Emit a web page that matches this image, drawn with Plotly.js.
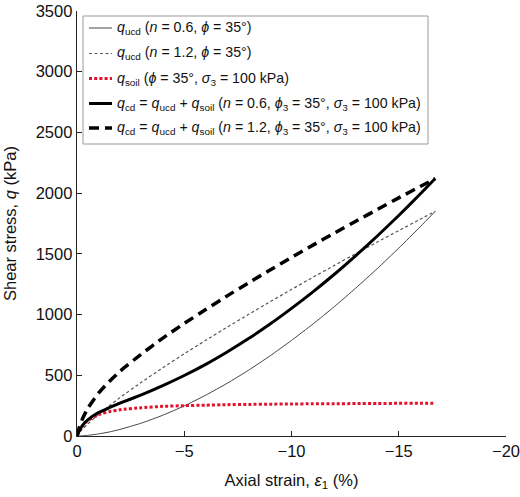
<!DOCTYPE html>
<html>
<head>
<meta charset="utf-8">
<script src="https://cdn.plot.ly/plotly-3.0.1.min.js"></script>
<style>
  html, body { margin: 0; padding: 0; background: #fff; }
  #chart { width: 520px; height: 497px; }
</style>
</head>
<body>
<div id="chart"></div>
<script>
// Axial strain (%), compression negative
const strain = [0, -0.1, -0.25, -0.5, -1, -1.5, -2, -3, -4, -5, -6, -7, -8, -9, -10, -11, -12, -13, -14, -15, -16, -16.7];

// Shear stress q (kPa) for each curve
const qUcdN06 = [0, 0.4, 1.7, 5.3, 17, 33, 54, 106, 171, 248, 336, 434, 542, 660, 787, 922, 1066, 1219, 1379, 1547, 1723, 1850];
const qUcdN12 = [0, 26, 56, 99, 177, 248, 316, 442, 562, 677, 788, 896, 1002, 1105, 1207, 1307, 1405, 1502, 1597, 1692, 1785, 1850];
const qSoil   = [0, 40, 83, 128, 176, 200, 216, 233, 244, 250, 254, 258, 260, 262, 264, 265, 266, 267, 268, 269, 270, 270];
const qCdN06  = [0, 40, 85, 133, 193, 233, 270, 339, 415, 498, 590, 692, 802, 922, 1051, 1187, 1332, 1486, 1647, 1816, 1993, 2120];
const qCdN12  = [0, 66, 139, 227, 353, 448, 532, 675, 806, 927, 1042, 1154, 1262, 1367, 1471, 1572, 1671, 1769, 1865, 1961, 2055, 2120];

const xTicks = [0, -5, -10, -15, -20];
const yTicks = [0, 500, 1000, 1500, 2000, 2500, 3000, 3500];

const legendLabels = [
  '<i>q</i><sub>ucd</sub> (<i>n</i> = 0.6, <i>ϕ</i> = 35°)',
  '<i>q</i><sub>ucd</sub> (<i>n</i> = 1.2, <i>ϕ</i> = 35°)',
  '<i>q</i><sub>soil</sub> (<i>ϕ</i> = 35°, <i>σ</i><sub>3</sub> = 100 kPa)',
  '<i>q</i><sub>cd</sub> = <i>q</i><sub>ucd</sub> + <i>q</i><sub>soil</sub> (<i>n</i> = 0.6, <i>ϕ</i><sub>3</sub> = 35°, <i>σ</i><sub>3</sub> = 100 kPa)',
  '<i>q</i><sub>cd</sub> = <i>q</i><sub>ucd</sub> + <i>q</i><sub>soil</sub> (<i>n</i> = 1.2, <i>ϕ</i><sub>3</sub> = 35°, <i>σ</i><sub>3</sub> = 100 kPa)'
];

const FONT = 'Liberation Sans, Arial, Helvetica, sans-serif';

const styles = [
  { color: '#444444', width: 1,   dash: 'solid' },
  { color: '#555555', width: 1.2, dash: '3px,2.5px' },
  { color: '#e3122c', width: 3,   dash: '3px,2.2px' },
  { color: '#000000', width: 3,   dash: 'solid' },
  { color: '#000000', width: 3.5, dash: '10px,6px' }
];

const series = [qUcdN06, qUcdN12, qSoil, qCdN06, qCdN12];

// thin curves first, thick combined curves on top
const traces = series.map((ys, i) => ({
  x: strain,
  y: ys,
  type: 'scatter',
  mode: 'lines',
  line: { color: styles[i].color, width: styles[i].width, dash: styles[i].dash, shape: 'spline', smoothing: 0.5 },
  name: legendLabels[i],
  showlegend: false,
  hoverinfo: 'skip'
}));

// plot-area geometry in pixels (used for the boxed key)
const M = { l: 77, r: 14, t: 11, b: 61 };
const W = 520, H = 497;
const pw = W - M.l - M.r, ph = H - M.t - M.b;
const px = v => (v - M.l) / pw;
const py = v => (H - M.b - v) / ph;

const shapes = [{
  type: 'rect', xref: 'paper', yref: 'paper',
  x0: px(83), x1: px(428), y0: py(144), y1: py(16),
  line: { color: '#9a9a9a', width: 1 }, fillcolor: 'rgba(255,255,255,1)', layer: 'above'
}];
const annotations = [];
const rowY = [28, 53.5, 78.5, 103.5, 128];
legendLabels.forEach((lab, i) => {
  shapes.push({
    type: 'line', xref: 'paper', yref: 'paper',
    x0: px(89), x1: px(112), y0: py(rowY[i]), y1: py(rowY[i]),
    line: { color: styles[i].color, width: styles[i].width, dash: styles[i].dash },
    layer: 'above'
  });
  annotations.push({
    xref: 'paper', yref: 'paper', x: px(115), y: py(rowY[i]),
    xanchor: 'left', yanchor: 'middle', showarrow: false,
    text: lab, font: { family: FONT, size: 14.2, color: '#111' }
  });
});

const layout = {
  width: W, height: H,
  margin: M,
  paper_bgcolor: '#fff', plot_bgcolor: '#fff',
  font: { family: FONT, color: '#111' },
  showlegend: false,
  xaxis: {
    range: [0, -20], tickvals: xTicks, ticks: 'inside', ticklen: 5, tickwidth: 1.2, tickcolor: '#222',
    showline: true, linecolor: '#222', linewidth: 1.3, showgrid: false, zeroline: false,
    tickfont: { family: FONT, size: 16.5, color: '#111' },
    title: { text: 'Axial strain, <i>ε</i><sub>1</sub> (%)', font: { family: FONT, size: 16.5, color: '#111' }, standoff: 15 },
    fixedrange: true
  },
  yaxis: {
    range: [0, 3500], tickvals: yTicks, ticks: 'inside', ticklen: 5, tickwidth: 1.2, tickcolor: '#222',
    showline: true, linecolor: '#222', linewidth: 1.3, showgrid: false, zeroline: false,
    tickfont: { family: FONT, size: 16.5, color: '#111' },
    title: { text: 'Shear stress, <i>q</i> (kPa)', font: { family: FONT, size: 16.5, color: '#111' }, standoff: 15 },
    fixedrange: true
  },
  shapes: shapes,
  annotations: annotations
};

Plotly.newPlot('chart', traces, layout, { displayModeBar: false, staticPlot: true });
</script>
</body>
</html>
